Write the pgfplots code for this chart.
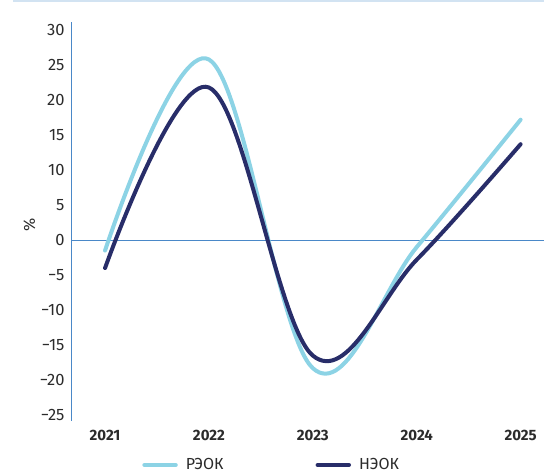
\documentclass[border=0pt]{standalone}
\usepackage{pgfplots}
\pgfplotsset{compat=1.18}
\usepackage{fontspec}
\setmainfont{Fira Sans}

\definecolor{reok}{HTML}{8CD3E5}
\definecolor{neok}{HTML}{282D69}
\definecolor{axblue}{HTML}{4A88C8}
\definecolor{txt}{HTML}{2B2B2B}
\definecolor{rule}{HTML}{D2E3F2}

% annual change, %
\pgfplotstableread{
x y
0 -1.5
1 25.8
2 -18.3
3 -1.0
4 17.2
}\reok
\pgfplotstableread{
x y
0 -4.0
1 21.8
2 -16.5
3 -2.8
4 13.7
}\neok

\begin{document}
\begin{tikzpicture}[x=1pt,y=1pt]
\useasboundingbox (-72,-52.3) rectangle (472,420.7);
\draw[rule, line width=2pt] (-59,419.7) -- (472,419.7);
\begin{axis}[
  at={(0,0)}, anchor=south west,
  scale only axis, width=472pt, height=399pt,
  xmin=-0.318, xmax=4.225, ymin=-25.8, ymax=31.2,
  xtick={0,1,2,3,4},
  xticklabels={2021,2022,2023,2024,2025},
  ytick={-25,-20,-15,-10,-5,0,5,10,15,20,25,30},
  yticklabels={−25,−20,−15,−10,−5,0,5,10,15,20,25,30},
  axis x line*=bottom, axis y line*=left,
  x axis line style={draw=none},
  y axis line style={axblue, line width=1pt, -},
  major tick length=0pt,
  yticklabel style={font=\fontsize{16.5}{16.5}\selectfont, text=txt, xshift=-4pt},
  xticklabel style={font=\fontsize{15}{15}\selectfont\bfseries, text=txt, yshift=-6pt},
  ylabel={\%},
  ylabel style={font=\fontsize{16}{16}\selectfont, text=txt, at={(axis description cs:-0.09,0.49)}, anchor=center},
  legend style={at={(0.423,-0.111)}, anchor=center, draw=none, fill=none,
    legend columns=2, font=\fontsize{16}{16}\selectfont, text=txt,
    /tikz/every odd column/.append style={column sep=6pt},
    /tikz/every even column/.append style={column sep=90pt}},
  legend image code/.code={\draw[#1, line width=4.5pt] (0pt,0pt) -- (31pt,0pt);},
  clip=false,
]
\draw[axblue, line width=1pt] ({rel axis cs:0,0}|-{axis cs:0,0}) -- ({rel axis cs:1,0}|-{axis cs:0,0});
\addplot[reok, line width=4pt, line cap=round, smooth, tension=0.6] table {\reok};
\addlegendentry{РЭОК}
\addplot[neok, line width=4pt, line cap=round, smooth, tension=0.6] table {\neok};
\addlegendentry{НЭОК}
\end{axis}
\end{tikzpicture}
\end{document}
